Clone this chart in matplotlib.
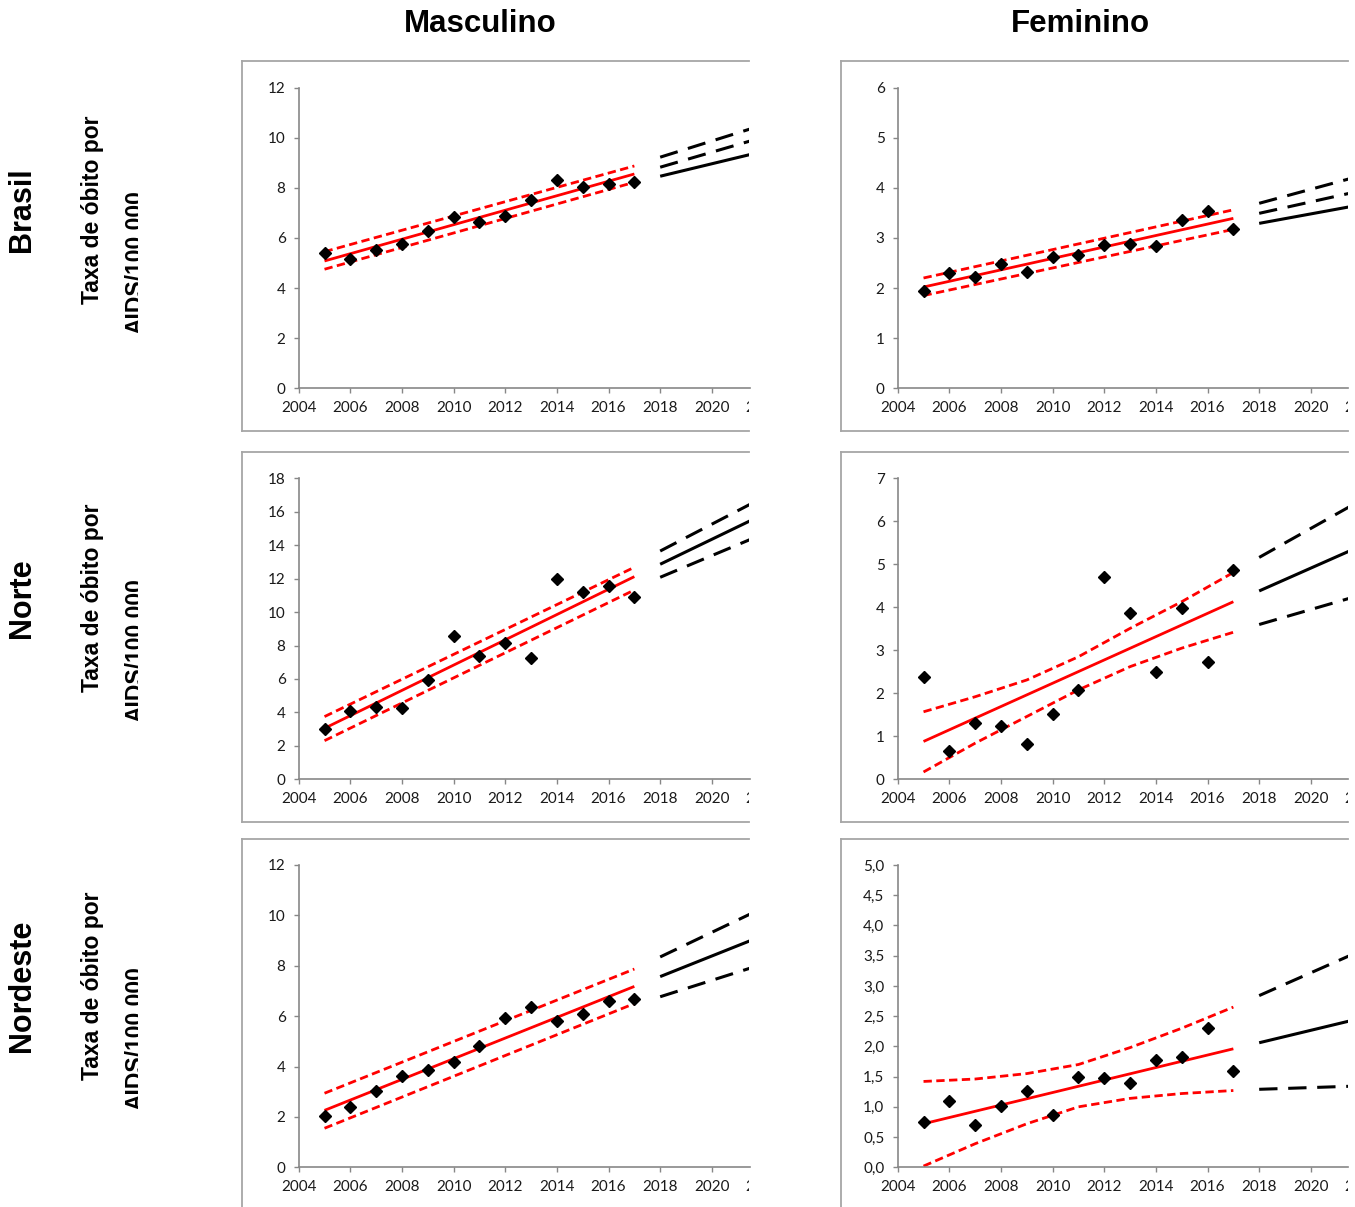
import numpy as np
import matplotlib.pyplot as plt
import matplotlib.transforms as mtransforms
from matplotlib.lines import Line2D
from matplotlib.patches import Rectangle

# anos observados
anos = list(range(2005, 2018))

bra_masc = [5.40, 5.15, 5.51, 5.76, 6.27, 6.84, 6.64, 6.88, 7.52, 8.31, 8.02, 8.17, 8.23]
bra_fem = [1.94, 2.30, 2.23, 2.47, 2.31, 2.61, 2.65, 2.86, 2.88, 2.84, 3.35, 3.53, 3.18]
nor_masc = [2.99, 4.09, 4.35, 4.27, 5.92, 8.59, 7.40, 8.17, 7.24, 11.98, 11.18, 11.54, 10.90]
nor_fem = [2.37, 0.65, 1.32, 1.23, 0.81, 1.51, 2.08, 4.71, 3.86, 2.50, 3.99, 2.73, 4.86]
nde_masc = [2.05, 2.38, 3.04, 3.61, 3.85, 4.17, 4.80, 5.94, 6.35, 5.80, 6.07, 6.59, 6.68]
nde_fem = [0.745, 1.09, 0.70, 1.02, 1.26, 0.86, 1.50, 1.48, 1.39, 1.78, 1.82, 2.30, 1.59]

# tendencia ajustada (vermelho) e intervalos
tend_x = [2005, 2017]
ic_x = [2005, 2007, 2009, 2011, 2013, 2015, 2017]

bra_masc_tend = [5.08, 8.55]
bra_masc_sup = [5.45, 8.87]
bra_masc_inf = [4.75, 8.22]
bra_fem_tend = [2.02, 3.39]
bra_fem_sup = [2.20, 3.56]
bra_fem_inf = [1.85, 3.17]
nor_masc_tend = [3.05, 12.12]
nor_masc_sup = [3.75, 12.68]
nor_masc_inf = [2.31, 11.32]
nor_fem_tend = [0.88, 4.13]
nor_fem_sup = [1.57, 1.92, 2.31, 2.85, 3.51, 4.13, 4.81]
nor_fem_inf = [0.17, 0.84, 1.46, 2.08, 2.62, 3.05, 3.42]
nde_masc_tend = [2.26, 7.18]
nde_masc_sup = [2.94, 7.87]
nde_masc_inf = [1.55, 6.50]
nde_fem_tend = [0.72, 1.96]
nde_fem_sup = [1.42, 1.46, 1.55, 1.70, 1.98, 2.30, 2.65]
nde_fem_inf = [0.02, 0.39, 0.72, 1.00, 1.14, 1.22, 1.27]

# projecao (preto)
proj_x = [2018, 2021.5]
bra_masc_proj = [8.46, 9.33]
bra_masc_proj_a = [9.22, 10.35]
bra_masc_proj_b = [8.82, 9.87]
bra_fem_proj = [3.29, 3.62]
bra_fem_proj_a = [3.69, 4.18]
bra_fem_proj_b = [3.49, 3.89]
nor_masc_proj = [12.86, 15.47]
nor_masc_proj_a = [13.65, 16.46]
nor_masc_proj_b = [12.08, 14.35]
nor_fem_proj = [4.38, 5.31]
nor_fem_proj_a = [5.16, 6.34]
nor_fem_proj_b = [3.60, 4.21]
nde_masc_proj = [7.57, 9.00]
nde_masc_proj_a = [8.35, 10.06]
nde_masc_proj_b = [6.77, 7.91]
nde_fem_proj = [2.06, 2.42]
nde_fem_proj_a = [2.84, 3.50]
nde_fem_proj_b = [1.29, 1.34]

colunas = ['Masculino', 'Feminino']
regioes = ['Brasil', 'Norte', 'Nordeste']
x_ticks = list(range(2004, 2023, 2))

paineis = [
    [(bra_masc, bra_masc_tend, tend_x, bra_masc_sup, bra_masc_inf, bra_masc_proj, bra_masc_proj_a, bra_masc_proj_b, 12, 2),
     (bra_fem, bra_fem_tend, tend_x, bra_fem_sup, bra_fem_inf, bra_fem_proj, bra_fem_proj_a, bra_fem_proj_b, 6, 1)],
    [(nor_masc, nor_masc_tend, tend_x, nor_masc_sup, nor_masc_inf, nor_masc_proj, nor_masc_proj_a, nor_masc_proj_b, 18, 2),
     (nor_fem, nor_fem_tend, ic_x, nor_fem_sup, nor_fem_inf, nor_fem_proj, nor_fem_proj_a, nor_fem_proj_b, 7, 1)],
    [(nde_masc, nde_masc_tend, tend_x, nde_masc_sup, nde_masc_inf, nde_masc_proj, nde_masc_proj_a, nde_masc_proj_b, 12, 2),
     (nde_fem, nde_fem_tend, ic_x, nde_fem_sup, nde_fem_inf, nde_fem_proj, nde_fem_proj_a, nde_fem_proj_b, 5, 0.5)],
]

W, H = 1355, 1207
fig = plt.figure(figsize=(W / 100, H / 100), dpi=100)
fig.patch.set_facecolor('white')

# geometria em pixels
col_box_left = [242, 841]
col_ax_left = [298.7, 897.7]
col_clip = [749.5, 1348]
px_por_ano = 25.82
row_box = [(61, 431), (452, 822), (839, 1230)]
row_ax = [(87.5, 388.3), (478.3, 779.3), (865, 1167.3)]
row_centro = [210, 598, 986]

cinza_borda = '#a6a6a6'
cinza_eixo = '#878787'
fonte_ticks = 'Lato'
cor_ticks = '#1a1a1a'


def fx(px):
    return px / W


def fy(py):
    return 1 - py / H


def clip_em_x(artista, px):
    # corta o texto a direita de px (em pixels da figura)
    caixa = mtransforms.TransformedBbox(mtransforms.Bbox([[0, 0], [fx(px), 1]]), fig.transFigure)
    artista.set_clip_box(caixa)
    artista.set_clip_on(True)


for c, nome in enumerate(colunas):
    fig.text(fx([480, 1080][c]), fy(23.5), nome, ha='center', va='center',
             fontsize=22.5, weight='bold', family='Liberation Sans')

for r, regiao in enumerate(regioes):
    yc = row_centro[r]
    fig.text(fx(22), fy(yc), regiao, rotation=90, ha='center', va='center',
             fontsize=22, weight='bold', family='Liberation Sans')
    fig.text(fx(93), fy(yc), 'Taxa de óbito por', rotation=90, ha='center', va='center',
             fontsize=16.5, weight='bold', family='Liberation Sans')
    fig.text(fx(136), fy(yc + 52), 'AIDS/100.000', rotation=90, ha='center', va='center',
             fontsize=16.5, weight='bold', family='Liberation Sans', zorder=3)
    # a segunda linha do rotulo aparece cortada no original
    fig.add_artist(Rectangle((fx(137.5), fy(yc + 140)), fx(12), 180 / H,
                             transform=fig.transFigure, facecolor='white',
                             edgecolor='none', zorder=4))

    for c in range(2):
        obs, tend, icx, sup, inf, proj, proj_a, proj_b, ymax, ystep = paineis[r][c]
        bl, bt, bb, cx = col_box_left[c], row_box[r][0], row_box[r][1], col_clip[c]
        # moldura cinza (cortada a direita)
        for xs, ys in [([bl, cx], [bt, bt]), ([bl, bl], [bt, bb]), ([bl, cx], [bb, bb])]:
            fig.add_artist(Line2D([fx(v) for v in xs], [fy(v) for v in ys],
                                  transform=fig.transFigure, color=cinza_borda, lw=1.3))

        x0 = col_ax_left[c]
        at, ab = row_ax[r]
        ax = fig.add_axes([fx(x0), fy(ab), (cx - x0) / W, (ab - at) / H])

        ax.plot(tend_x, tend, color='red', lw=2.0, solid_capstyle='butt')
        ax.plot(icx, sup, color='red', lw=2.0, dashes=(3, 1.6))
        ax.plot(icx, inf, color='red', lw=2.0, dashes=(3, 1.6))
        ax.plot(proj_x, proj, color='black', lw=2.2, solid_capstyle='butt')
        ax.plot(proj_x, proj_a, color='black', lw=2.2, dashes=(6, 3.5))
        ax.plot(proj_x, proj_b, color='black', lw=2.2, dashes=(6, 3.5))
        ax.plot(anos, obs, 'D', color='black', markersize=6.5, zorder=5)

        for s in ['top', 'right']:
            ax.spines[s].set_visible(False)
        for s in ['left', 'bottom']:
            ax.spines[s].set_color(cinza_eixo)
            ax.spines[s].set_linewidth(1.2)

        yt = np.arange(0, ymax + ystep / 2, ystep)
        ax.set_yticks(yt)
        if ystep < 1:
            ax.set_yticklabels([f'{v:.1f}'.replace('.', ',') for v in yt])
        else:
            ax.set_yticklabels([f'{v:g}' for v in yt])
        ax.set_xticks(x_ticks)
        ax.set_xticklabels([str(v) for v in x_ticks])
        # limites depois dos ticks (set_xticks amplia a vista)
        ax.set_xlim(2004, 2004 + (cx - x0) / px_por_ano)
        ax.set_ylim(0, ymax)
        ax.tick_params(direction='out', length=3.5, width=1, color=cinza_eixo,
                       labelsize=11, labelcolor=cor_ticks)
        ax.tick_params(axis='x', pad=6)
        ax.tick_params(axis='y', pad=6)
        for lab in ax.get_xticklabels() + ax.get_yticklabels():
            lab.set_family(fonte_ticks)

        # rotulo 2022 parcialmente cortado
        trans = mtransforms.offset_copy(ax.get_xaxis_transform(), fig=fig, y=-9.5, units='points')
        t22 = ax.text(2022, 0, '2022', transform=trans, ha='center', va='top',
                      fontsize=11, family=fonte_ticks, color=cor_ticks)
        clip_em_x(t22, cx)

fig.savefig('out.png', dpi=100, facecolor='white')
